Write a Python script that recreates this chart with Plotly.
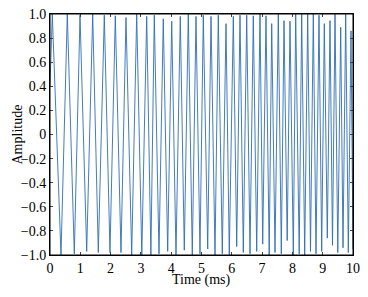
import plotly.graph_objects as go

# Extrema of the waveform (time in ms, amplitude)
start_time = [0.0]
start_amp = [0.40]

peak_time = [0.076, 0.571, 0.990, 1.409, 1.792, 2.155, 2.508, 2.861, 3.191, 3.442,
             3.739, 4.017, 4.300, 4.564, 4.818, 5.059, 5.314, 5.554, 5.809, 6.050,
             6.271, 6.492, 6.710, 6.931, 7.129, 7.317, 7.535, 7.723, 7.921, 8.109,
             8.307, 8.505, 8.690, 8.878, 9.053, 9.241, 9.406, 9.594, 9.759, 9.934]
peak_amp = [1.0, 1.0, 0.99, 1.0, 0.99, 0.985, 0.97, 1.0, 0.98, 0.99,
            0.96, 0.94, 0.98, 1.0, 0.98, 0.99, 0.98, 0.99, 0.92, 0.98,
            0.99, 0.99, 0.985, 1.0, 0.985, 0.92, 1.0, 0.945, 0.94, 1.0,
            1.0, 1.0, 1.0, 0.99, 0.92, 0.945, 1.0, 0.89, 1.0, 0.86]

trough_time = [0.363, 0.802, 1.211, 1.594, 1.980, 2.343, 2.696, 3.030, 3.330, 3.597,
               3.884, 4.158, 4.432, 4.696, 4.950, 5.205, 5.446, 5.686, 5.917, 6.162,
               6.380, 6.601, 6.822, 7.020, 7.234, 7.426, 7.634, 7.828, 8.030, 8.224,
               8.406, 8.597, 8.779, 8.967, 9.152, 9.323, 9.498, 9.670, 9.845, 10.0]
trough_amp = [-1.0, -0.99, -0.97, -0.98, -0.98, -0.98, -1.0, -1.0, -1.0, -0.99,
              -0.97, -1.0, -0.96, -1.0, -0.99, -0.95, -1.0, -0.99, -1.0, -0.93,
              -0.98, -0.99, -0.97, -0.91, -1.0, -0.98, -0.99, -0.88, -1.0, -0.99,
              -1.0, -0.97, -0.99, -0.97, -0.86, -0.92, -0.98, -0.94, -0.98, -0.95]

x_ticks = [0, 1, 2, 3, 4, 5, 6, 7, 8, 9, 10]
y_ticks = [-1.0, -0.8, -0.6, -0.4, -0.2, 0, 0.2, 0.4, 0.6, 0.8, 1.0]
y_tick_text = ["\u22121.0", "\u22120.8", "\u22120.6", "\u22120.4", "\u22120.2", "0",
               "0.2", "0.4", "0.6", "0.8", "1.0"]
x_title = "Time (ms)"
y_title = "Amplitude"

# Build alternating sequence peak, trough, ...
t = list(start_time)
a = list(start_amp)
for pt, pa, tt, ta in zip(peak_time, peak_amp, trough_time, trough_amp):
    t += [pt, tt]
    a += [pa, ta]

fig = go.Figure()
fig.add_trace(go.Scatter(x=t, y=a, mode="lines",
                         line=dict(color="#2f6db5", width=0.9),
                         hoverinfo="skip", showlegend=False))

serif = "Liberation Serif"
fig.update_layout(
    width=352, height=281,
    margin=dict(l=42, r=7, t=6, b=34),
    paper_bgcolor="white", plot_bgcolor="white",
    font=dict(family=serif, size=14, color="black"),
    xaxis=dict(range=[0, 10], tickvals=x_ticks, ticks="inside", ticklen=3,
               tickfont=dict(family=serif, size=14, color="black"),
               ticklabeloverflow="allow",
               showline=True, linecolor="black", linewidth=1, mirror="ticks",
               showgrid=False, zeroline=False, automargin=False),
    yaxis=dict(range=[-1, 1], tickvals=y_ticks, ticktext=y_tick_text,
               ticks="inside", ticklen=3,
               tickfont=dict(family=serif, size=14, color="black"),
               ticklabeloverflow="allow",
               showline=True, linecolor="black", linewidth=1, mirror="ticks",
               showgrid=False, zeroline=False, automargin=False),
    shapes=[dict(type="rect", xref="paper", yref="paper", x0=0, x1=1, y0=0, y1=1,
                 line=dict(color="black", width=1), layer="above")],
    annotations=[
        dict(text=x_title, xref="paper", yref="paper", x=0.5, y=0,
             xanchor="center", yanchor="middle", yshift=-25, showarrow=False,
             font=dict(family=serif, size=14, color="black")),
        dict(text=y_title, xref="paper", yref="paper", x=0, y=0.5,
             xanchor="center", yanchor="middle", xshift=-33, textangle=-90,
             showarrow=False, font=dict(family=serif, size=14, color="black")),
    ],
)

fig.write_html("out.html")
